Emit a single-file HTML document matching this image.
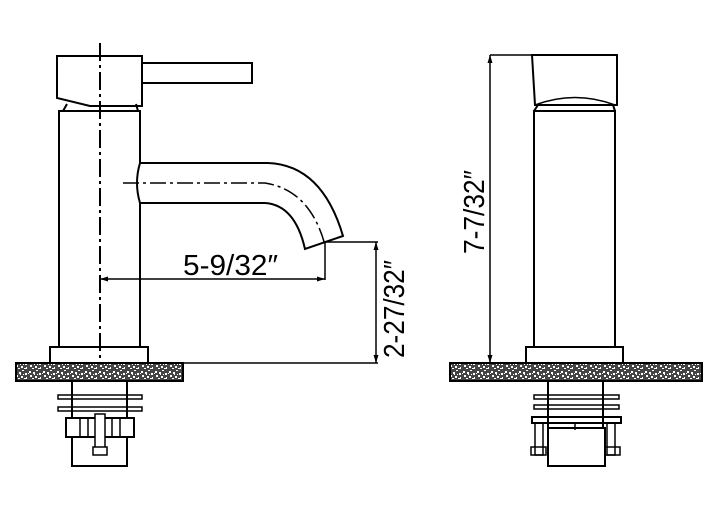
<!DOCTYPE html>
<html><head><meta charset="utf-8"><style>body{margin:0;background:#fff}svg{display:block}</style></head>
<body>
<svg width="720" height="508" viewBox="0 0 720 508" xmlns="http://www.w3.org/2000/svg" font-family="Liberation Sans, sans-serif">
<defs>
<pattern id="sp" width="14" height="10" patternUnits="userSpaceOnUse">
<rect width="14" height="10" fill="#444"/>
<rect x="1" y="1" width="2" height="2" fill="#fff"/><rect x="5" y="2" width="2" height="2" fill="#fff"/>
<rect x="8" y="0" width="2" height="1" fill="#fff"/><rect x="11" y="3" width="2" height="2" fill="#fff"/>
<rect x="2" y="5" width="2" height="2" fill="#fff"/><rect x="7" y="6" width="2" height="2" fill="#fff"/>
<rect x="12" y="7" width="1" height="2" fill="#fff"/><rect x="4" y="8" width="2" height="1" fill="#fff"/>
<rect x="9" y="4" width="1" height="1" fill="#fff"/><rect x="0" y="3" width="1" height="1" fill="#fff"/>
<rect x="10" y="8" width="2" height="1" fill="#fff"/><rect x="6" y="4" width="1" height="1" fill="#fff"/>
</pattern>
</defs>
<g fill="none" stroke="#000" stroke-width="2">
<!-- LEFT VIEW -->
<path d="M57,56 H142 V106 H90 L57,98 Z"/>
<path d="M142,63 H252 V83 H142"/>
<path d="M63,111 L67,104 M136,104 L138,111"/>
<rect x="59" y="111" width="81" height="236"/>
<path d="M140,163 H268 Q322,165 343,236 L305,249 Q295,205 265,203 H140 Q134,183 140,163 Z" fill="#fff"/>
<path d="M123,183 H265 Q310,190 325,245" stroke-width="1.5" stroke-dasharray="16,4,3,4"/>
<line x1="100" y1="43" x2="100" y2="360" stroke-dasharray="18,4,3,4"/>
<rect x="50" y="347" width="98" height="16"/>
<rect x="16" y="363" width="167" height="18" fill="url(#sp)"/>
<path d="M72,381 V466 H127 V381"/>
<rect x="58" y="395" width="84" height="4" stroke-width="1.5"/>
<rect x="58" y="407" width="84" height="4" stroke-width="1.5"/>
<rect x="66" y="418" width="68" height="19" fill="#fff"/>
<path d="M80,418 V437 M88,418 V437 M112,418 V437 M120,418 V437" stroke-width="1.5"/>
<rect x="95" y="414" width="10" height="38" fill="#fff" stroke-width="1.5"/>
<rect x="93" y="447" width="14" height="8" fill="#fff" stroke-width="1.5"/>
<g stroke-width="1.5">
<line x1="100" y1="279" x2="325" y2="279"/>
<line x1="325" y1="242" x2="325" y2="280"/>
<line x1="325" y1="242" x2="378" y2="242"/>
<line x1="376" y1="242" x2="376" y2="363"/>
<line x1="183" y1="363" x2="378" y2="363"/>
</g>
<!-- RIGHT VIEW -->
<path d="M532,55 H617 V105 H535 Z"/>
<path d="M535,105 Q575,90 615,105" stroke-width="1.5"/>
<path d="M538,105 L534,111 M613,105 L615,111"/>
<rect x="534" y="111" width="81" height="236"/>
<rect x="526" y="347" width="97" height="16"/>
<rect x="450" y="363" width="252" height="18" fill="url(#sp)"/>
<path d="M548,381 V428 M603,381 V428"/>
<rect x="534" y="395" width="85" height="4" stroke-width="1.5"/>
<rect x="534" y="405" width="85" height="4" stroke-width="1.5"/>
<rect x="532" y="417" width="89" height="6"/>
<rect x="535" y="423" width="8" height="32" stroke-width="1.5"/>
<rect x="607" y="423" width="8" height="32" stroke-width="1.5"/>
<rect x="531" y="447" width="15" height="8" stroke-width="1.5"/>
<rect x="605" y="447" width="15" height="8" stroke-width="1.5"/>
<rect x="548" y="428" width="57" height="38"/>
<path d="M575,423 V430" stroke-width="1.5"/>
<g stroke-width="1.5">
<line x1="490" y1="55" x2="532" y2="55"/>
<line x1="490" y1="55" x2="490" y2="363"/>
</g>
</g>
<g fill="#000">
<path d="M100,279 l8,-2.5 v5 Z M325,279 l-8,-2.5 v5 Z M376,242 l-2.5,8 h5 Z M376,363 l-2.5,-8 h5 Z M490,55 l-2.5,8 h5 Z M490,363 l-2.5,-8 h5 Z"/>
</g>
<g font-size="29" fill="#000">
<text x="183" y="275" textLength="95" lengthAdjust="spacingAndGlyphs">5-9/32″</text>
<text transform="translate(404,358) rotate(-90)" textLength="98" lengthAdjust="spacingAndGlyphs">2-27/32″</text>
<text transform="translate(484,254) rotate(-90)" textLength="84" lengthAdjust="spacingAndGlyphs">7-7/32″</text>
</g>
</svg>
</body></html>
